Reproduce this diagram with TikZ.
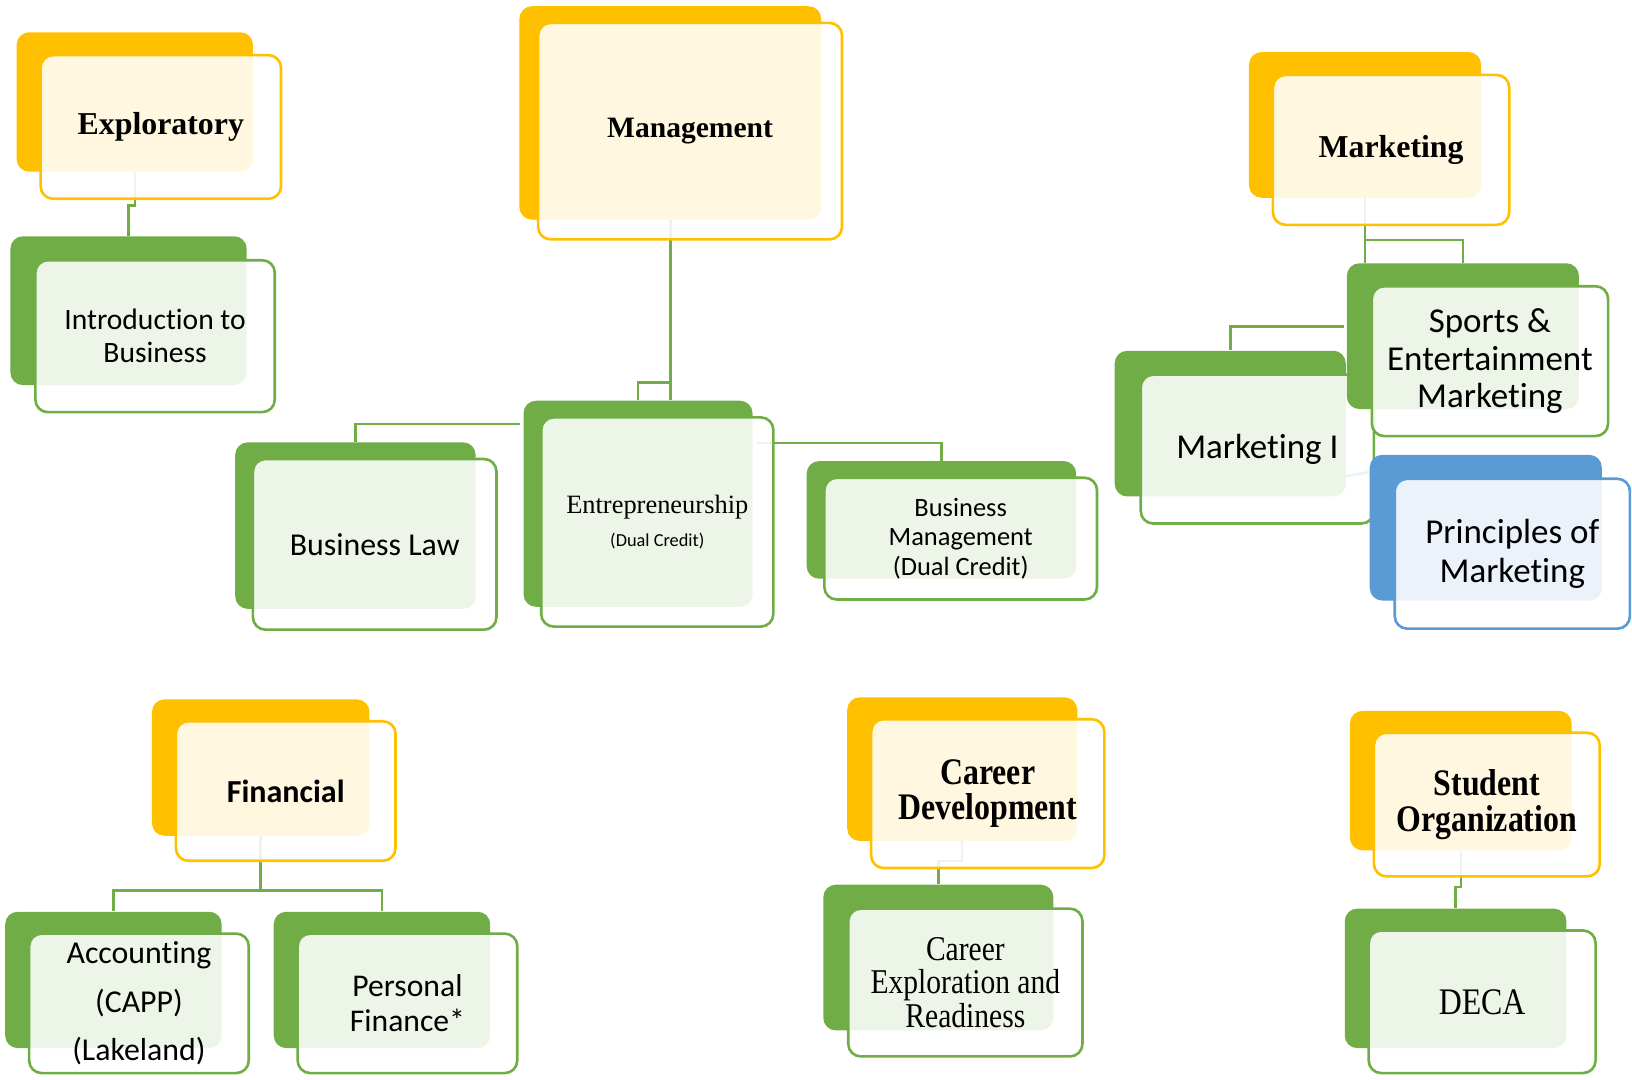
\documentclass[tikz,border=0pt]{standalone}
\usepackage{fontspec}
\setmainfont{Liberation Serif}
\newfontfamily\calfont[Ligatures=NoCommon]{Carlito}
\newfontfamily\narrowfont[FakeStretch=0.85]{Liberation Serif}
\usetikzlibrary{backgrounds}
\definecolor{gold}{HTML}{FFC000}
\definecolor{leaf}{HTML}{70AD47}
\definecolor{sky}{HTML}{5B9BD5}

\begin{document}
\begin{tikzpicture}[x=0.5pt,y=-0.5pt]
	\tikzstyle{back} = [rectangle,rounded corners=6pt,inner sep=0pt]
	\tikzstyle{front} = [rectangle,rounded corners=6pt,inner sep=0pt,line width=1.25pt,fill=white,fill opacity=0.88,text opacity=1,align=center]
	\tikzstyle{conn} = [draw=leaf,line width=1.2pt]
	\useasboundingbox (0,0) rectangle (1568,1036.7);

	% exploratory
	\node[back,fill=gold,minimum width=113.5pt,minimum height=67pt] (expl) at (129.5,98) {};
	\node[front,draw=gold,minimum width=115.5pt,minimum height=69pt,font=\bfseries\fontsize{15.3}{17}\selectfont] (explF) at (154.5,122) {Exploratory};
	\node[back,fill=leaf,minimum width=113.5pt,minimum height=71.5pt] (intro) at (123.5,298.5) {};
	\node[front,draw=leaf,minimum width=115pt,minimum height=73pt,font=\calfont\fontsize{14.2}{16}\selectfont] (introF) at (149,323) {Introduction to\\Business};

	% management
	\node[back,fill=gold,minimum width=145pt,minimum height=102.5pt] (mgmt) at (644,108.5) {};
	\node[front,draw=gold,minimum width=146pt,minimum height=104pt,font=\bfseries\fontsize{14.2}{16}\selectfont] (mgmtF) at (663,126) {Management};
	\node[back,fill=leaf,minimum width=110pt,minimum height=99pt] (entre) at (613,484) {};
	\node[front,draw=leaf,minimum width=111.5pt,minimum height=100.5pt,font=\fontsize{12.7}{15.5}\selectfont] (entreF) at (631.5,501.5) {Entrepreneurship\\{\calfont\fontsize{8.8}{10}\selectfont (Dual Credit)}};
	\node[back,fill=leaf,minimum width=115.5pt,minimum height=80pt] (blaw) at (341.5,505) {};
	\node[front,draw=leaf,minimum width=117pt,minimum height=82pt,font=\calfont\fontsize{15.3}{17}\selectfont] (blawF) at (360,523) {Business Law};
	\node[back,fill=leaf,minimum width=129.5pt,minimum height=56.5pt] (bmgmt) at (904.5,499.5) {};
	\node[front,draw=leaf,minimum width=131pt,minimum height=58.5pt,font=\calfont\fontsize{12.7}{14}\selectfont] (bmgmtF) at (923,517.5) {Business\\Management\\(Dual Credit)};

	% marketing
	\node[back,fill=gold,minimum width=111.5pt,minimum height=70pt] (mkt) at (1311.5,120) {};
	\node[front,draw=gold,minimum width=113.5pt,minimum height=72pt,font=\bfseries\fontsize{15.3}{17}\selectfont] (mktF) at (1336.5,144) {Marketing};
	\node[back,fill=leaf,minimum width=111pt,minimum height=70pt] (mkt1) at (1182,407) {};
	\node[front,draw=leaf,minimum width=112pt,minimum height=71.5pt,font=\calfont\fontsize{16.8}{18}\selectfont] (mkt1F) at (1208,431.5) {Marketing I};
	\node[back,fill=leaf,minimum width=111.5pt,minimum height=70pt] (sports) at (1405.5,323) {};
	\node[front,draw=leaf,minimum width=113.5pt,minimum height=72pt,font=\calfont\fontsize{16.8}{18.2}\selectfont] (sportsF) at (1431.5,347) {Sports \&\\Entertainment\\Marketing};
	\node[back,fill=sky,minimum width=111.5pt,minimum height=70pt] (princ) at (1427.5,507) {};
	\node[front,draw=sky,minimum width=113pt,minimum height=72pt,font=\calfont\fontsize{16.8}{18.5}\selectfont] (princF) at (1453,532) {Principles of\\Marketing};

	% financial
	\node[back,fill=gold,minimum width=104.5pt,minimum height=65.5pt] (fin) at (250.5,737.5) {};
	\node[front,draw=gold,minimum width=105.5pt,minimum height=67pt,font=\calfont\bfseries\fontsize{15.4}{17}\selectfont] (finF) at (274.5,760) {Financial};
	\node[back,fill=leaf,minimum width=104pt,minimum height=65.5pt] (acct) at (109,941.5) {};
	\node[front,draw=leaf,minimum width=105.5pt,minimum height=67pt,font=\calfont\fontsize{15.3}{23.2}\selectfont] (acctF) at (133.5,964) {Accounting\\(CAPP)\\(Lakeland)};
	\node[back,fill=leaf,minimum width=104pt,minimum height=65.5pt] (pfin) at (367,941.5) {};
	\node[front,draw=leaf,minimum width=105.5pt,minimum height=67pt,font=\calfont\fontsize{15.2}{17}\selectfont] (pfinF) at (391.5,964) {Personal\\Finance*};

	% career development
	\node[back,fill=gold,minimum width=110.5pt,minimum height=69pt] (career) at (924.5,739) {};
	\node[front,draw=gold,minimum width=112pt,minimum height=71.5pt,font=\narrowfont\bfseries\fontsize{18}{17}\selectfont] (careerF) at (949,762.5) {Career\\Development};
	\node[back,fill=leaf,minimum width=110.5pt,minimum height=70pt] (cexp) at (901.5,920) {};
	\node[front,draw=leaf,minimum width=112.5pt,minimum height=71pt,font=\narrowfont\fontsize{16.7}{16}\selectfont] (cexpF) at (927.5,944) {Career\\Exploration and\\Readiness};

	% student organization
	\node[back,fill=gold,minimum width=106.5pt,minimum height=67pt] (student) at (1403.5,750) {};
	\node[front,draw=gold,minimum width=108.5pt,minimum height=69pt,font=\narrowfont\bfseries\fontsize{18}{17.2}\selectfont] (studentF) at (1428.5,773) {Student\\Organization};
	\node[back,fill=leaf,minimum width=106.5pt,minimum height=67pt] (deca) at (1398.5,940) {};
	\node[front,draw=leaf,minimum width=109pt,minimum height=68.5pt,font=\narrowfont\fontsize{18}{19}\selectfont] (decaF) at (1424,962.5) {DECA};

	\begin{pgfonlayer}{background}
	\draw[conn] (expl.south) -- ++(0,32) -| (intro.north);
	\draw[conn] (mgmt.south) -- (mgmt.south |- entre.north);
	\draw[conn] ([yshift=8.5pt]mgmt.south |- entre.north) -| (entre.north);
	\draw[conn] (entre.north west) ++(-3,23) -| (blaw.north);
	\draw[conn] (entre.north east) ++(4,41) -| (bmgmt.north);
	\draw[conn] (mkt.south) -- (mkt.south |- sports.north);
	\draw[conn] ([yshift=11pt]mkt.south |- sports.north) -| (sports.north);
	\draw[conn] (sports.north west) ++(-2,61) -| (mkt1.north);
	\draw[draw=sky,line width=1.2pt] ([yshift=-60.5pt]mkt1.north east) -- ([yshift=-8.5pt]princ.north west);
	\draw[conn] (fin.south) -- ++(0,52) -| (acct.north);
	\draw[conn] (fin.south) -- ++(0,52) -| (pfin.north);
	\draw[conn] (career.south) -- ++(0,19) -| (cexp.north);
	\draw[conn] (student.south) -- ++(0,35) -| (deca.north);
	\end{pgfonlayer}
\end{tikzpicture}
\end{document}
